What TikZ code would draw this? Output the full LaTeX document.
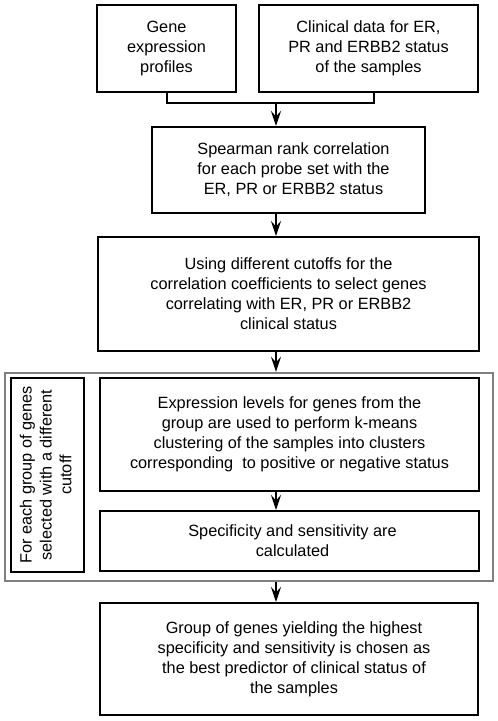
\documentclass[tikz,border=0pt]{standalone}
\usepackage{fontspec}
\setmainfont{Liberation Sans}
\usetikzlibrary{arrows.meta}
\begin{document}
\begin{tikzpicture}[x=1pt,y=-1pt,
  box/.style={draw=black, line width=2pt, align=center, inner sep=0pt,
    font=\fontsize{16.3}{20}\selectfont},
  graybox/.style={draw=black!50, line width=2.4pt, inner sep=0pt},
  link/.style={line width=2pt},
  arr/.style={line width=2pt, -{Stealth[length=15pt,width=10pt,inset=5.5pt]}}]
\useasboundingbox (0,0) rectangle (498,721);
\node[box, minimum width=139, minimum height=87] (b1) at (166.5,48.5)
  {Gene\\expression\\profiles};
\node[box, minimum width=219, minimum height=87] (b2) at (368.5,48.5)
  {Clinical data for ER,\\PR and ERBB2 status\\of the samples};
\node[box, minimum width=273, minimum height=86] (b3) at (288.5,170)
  {\hspace*{10pt}Spearman rank correlation\\\hspace*{10pt}for each probe set with the\\\hspace*{10pt}ER, PR or ERBB2 status};
\node[box, minimum width=381, minimum height=114] (b4) at (288.5,294)
  {Using different cutoffs for the\\correlation coefficients to select genes\\correlating with ER, PR or ERBB2\\clinical status};
\node[graybox, minimum width=488, minimum height=208] (outer) at (249,477) {};
\node[box, minimum width=73, minimum height=194] (side) at (47.5,475)
  {\rotatebox{90}{\begin{tabular}{@{}c@{}}For each group of genes\\selected with a different\\cutoff\end{tabular}}};
\node[box, minimum width=379, minimum height=113] (b5) at (289.5,434.5)
  {Expression levels for genes from the\\group are used to perform k-means\\clustering of the samples into clusters\\corresponding\ \ to positive or negative status};
\node[box, minimum width=379, minimum height=60] (b6) at (289.5,541)
  {\hspace*{6pt}Specificity and sensitivity are\\\hspace*{6pt}calculated};
\node[box, minimum width=378, minimum height=112] (b7) at (289,659)
  {\hspace*{10pt}Group of genes yielding the highest\\\hspace*{10pt}specificity and sensitivity is chosen as\\\hspace*{10pt}the best predictor of clinical status of\\\hspace*{10pt}the samples};
\coordinate (jl) at (166.5,103);
\coordinate (jr) at (374,103);
\coordinate (jm) at (276,103);
\draw[link] (b1.south) -- (jl) -- (jr) -- (jr |- b2.south);
\draw[arr] (jm) -- (jm |- b3.north);
\draw[arr] (jm |- b3.south) -- (jm |- b4.north);
\draw[arr] (jm |- b4.south) -- (jm |- outer.north);
\draw[arr] (jm |- b5.south) -- (jm |- b6.north);
\draw[arr] (jm |- outer.south) -- (jm |- b7.north);
\end{tikzpicture}
\end{document}
